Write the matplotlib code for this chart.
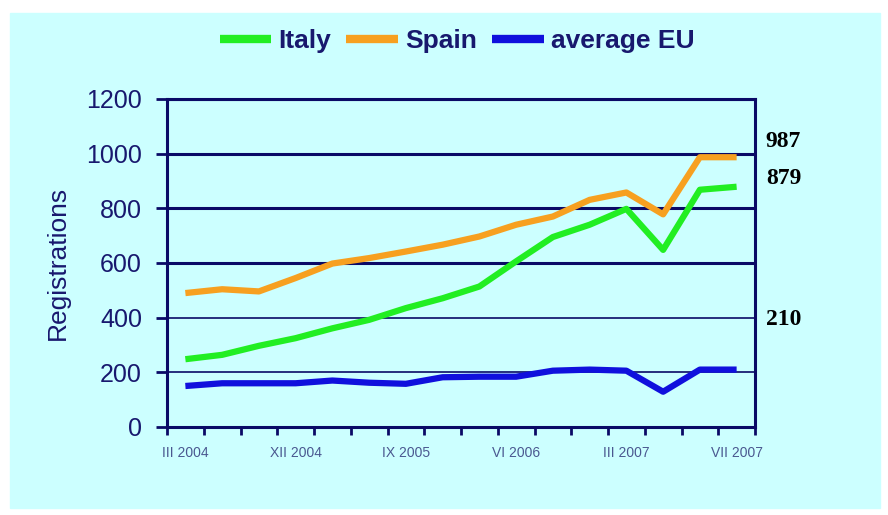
import matplotlib
matplotlib.use("Agg")
import matplotlib.pyplot as plt
from matplotlib.patches import Rectangle
from matplotlib.ticker import FixedLocator

# periods on the x axis (only every third one is labelled)
tick_labels = ["III 2004", "", "", "XII 2004", "", "", "IX 2005", "", "",
               "VI 2006", "", "", "III 2007", "", "", "VII 2007"]

italy = [248, 264, 297, 325, 361, 392, 435, 471, 514, 606, 695, 740, 798, 648, 868, 879]
spain = [490, 504, 496, 545, 598, 618, 642, 667, 697, 740, 770, 831, 858, 778, 987, 987]
avg_eu = [150, 160, 160, 160, 170, 162, 158, 182, 184, 184, 206, 210, 206, 129, 210, 210]

navy = "#0a0a66"
text_navy = "#18186e"

plt.rcParams["font.family"] = ["Liberation Sans", "DejaVu Sans"]

fig = plt.figure(figsize=(8.88, 5.15), dpi=100)
fig.patch.set_facecolor("white")
# light cyan panel behind everything
fig.patches.append(Rectangle((10 / 888, 7 / 515), 870 / 888, 495 / 515,
                             transform=fig.transFigure, color="#ccffff", zorder=-1))

ax = fig.add_axes([167 / 888, 88 / 515, 588 / 888, 328 / 515])
ax.set_facecolor("none")

x = list(range(len(italy)))
ax.plot(x, italy, color="#22ee22", lw=4.5, label="Italy", zorder=3, solid_capstyle="butt")
ax.plot(x, spain, color="#f7a020", lw=4.5, label="Spain", zorder=3, solid_capstyle="butt")
ax.plot(x, avg_eu, color="#1010dd", lw=4.5, label="average EU", zorder=4, solid_capstyle="butt")

ax.set_xlim(-0.5, len(italy) - 0.5)
ax.set_ylim(0, 1200)
ax.set_yticks(range(0, 1201, 200))
ax.tick_params(axis="y", direction="out", length=8, width=2, color=navy,
               labelsize=18, labelcolor=text_navy, pad=10)

# x: tick marks at the category borders, labels centred on categories
ax.set_xticks(x)
ax.set_xticklabels(tick_labels)
ax.tick_params(axis="x", which="major", length=0, labelsize=10,
               labelcolor="#4a5890", pad=14)
ax.xaxis.set_minor_locator(FixedLocator([i - 0.5 for i in range(len(italy) + 1)]))
ax.tick_params(axis="x", which="minor", direction="out", length=6, width=2, color=navy)

ax.grid(axis="y", color=navy, zorder=1)
ax.set_axisbelow(True)
for val, gl in zip(ax.get_yticks(), ax.get_ygridlines()):
    gl.set_linewidth(2.2 if val >= 600 else 1.2)

for side in ["left", "right", "bottom", "top"]:
    ax.spines[side].set_color(navy)
    ax.spines[side].set_linewidth(2.2)

ax.set_ylabel("Registrations", fontsize=19, color=text_navy)
ax.yaxis.set_label_coords(-0.165, 0.5)

# last values written at the right side
for series, dy in [(spain, 11), (italy, 6), (avg_eu, 36)]:
    ax.annotate(str(series[-1]), xy=(x[-1], series[-1]), xytext=(21, dy),
                textcoords="offset points", va="center", ha="left",
                fontsize=17, fontweight="bold", family="Liberation Serif",
                color="black", annotation_clip=False)

fig.legend(loc="center", bbox_to_anchor=(457 / 888, 1 - 41 / 515), ncol=3,
           frameon=False, prop={"size": 19, "weight": "bold"}, labelcolor=text_navy,
           handlelength=1.95, handletextpad=0.26, columnspacing=0.6)
for line in fig.legends[0].get_lines():
    line.set_linewidth(6)

fig.savefig("out.png", dpi=100)
